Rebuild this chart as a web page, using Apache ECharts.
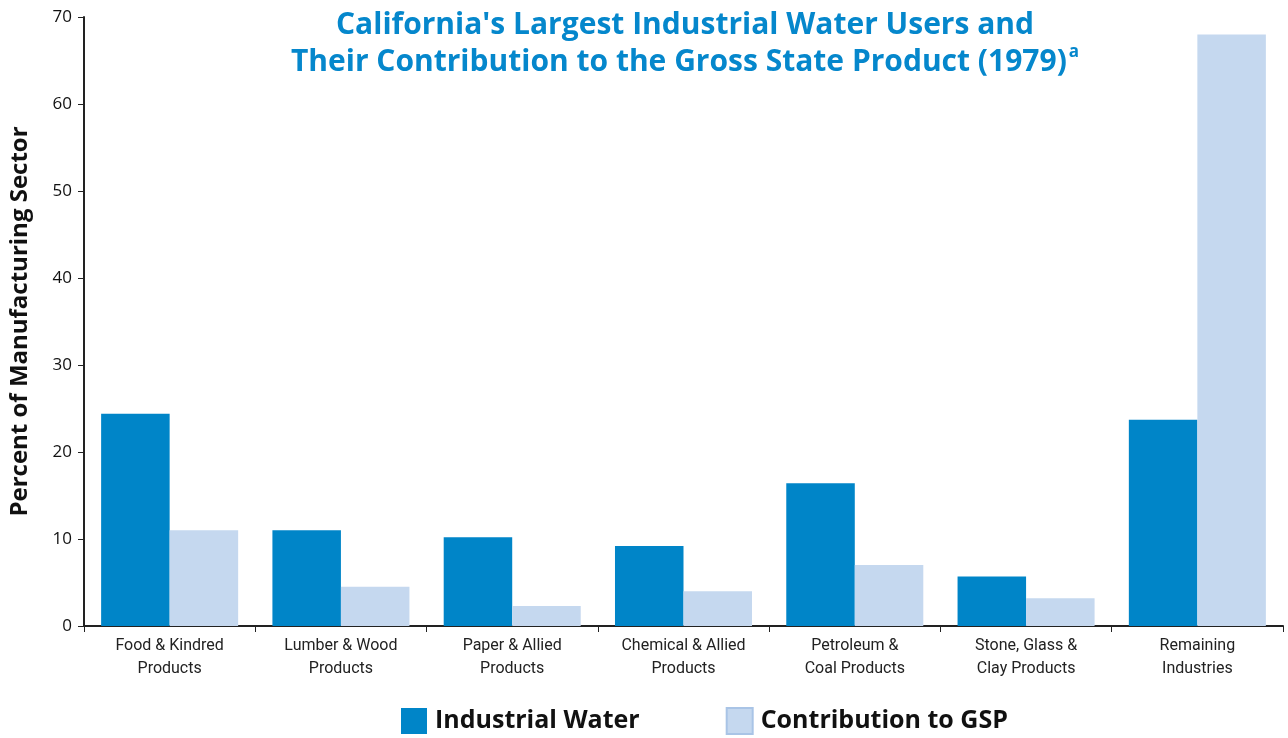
<!DOCTYPE html>
<html>
<head>
<meta charset="utf-8">
<script src="https://cdn.jsdelivr.net/npm/echarts@6/dist/echarts.min.js"></script>
<style>
  html, body { margin: 0; padding: 0; background: #fff; }
  #chart { width: 1288px; height: 738px; }
</style>
</head>
<body>
<div id="chart"></div>
<script>
const categories = [
  'Food & Kindred\nProducts',
  'Lumber & Wood\nProducts',
  'Paper & Allied\nProducts',
  'Chemical & Allied\nProducts',
  'Petroleum &\nCoal Products',
  'Stone, Glass &\nClay Products',
  'Remaining\nIndustries'
];
const industrialWater = [24.4, 11.0, 10.2, 9.2, 16.4, 5.7, 23.7];
const contributionGSP = [11.0, 4.5, 2.3, 4.0, 7.0, 3.2, 68.0];

var chart = echarts.init(document.getElementById('chart'));
chart.setOption({
  animation: false,
  title: {
    text: "California's Largest Industrial Water Users and\nTheir Contribution to the Gross State Product (1979){sup|a}",
    left: 680,
    textAlign: 'center',
    top: 2,
    textStyle: {
      color: '#0587cc',
      fontFamily: 'Open Sans',
      fontWeight: 'bold',
      fontSize: 30,
      lineHeight: 37,
      rich: {
        sup: {
          color: '#0587cc',
          fontFamily: 'Open Sans',
          fontWeight: 'bold',
          fontSize: 17,
          verticalAlign: 'top',
          padding: [0, 0, 18, 2]
        }
      }
    }
  },
  grid: { left: 84, right: 5, top: 17, bottom: 112 },
  legend: {
    top: 702,
    left: 396,
    icon: 'rect',
    itemWidth: 26,
    itemHeight: 26,
    itemGap: 86,
    textStyle: {
      fontFamily: 'Open Sans',
      fontWeight: 'bold',
      fontSize: 25,
      color: '#111',
      padding: [0, 0, 0, 3]
    },
    data: [
      { name: 'Industrial Water', itemStyle: { color: '#0085c8' } },
      { name: 'Contribution to GSP', itemStyle: { color: '#c5d8ef', borderColor: '#a9c4e6', borderWidth: 2 } }
    ]
  },
  xAxis: {
    type: 'category',
    data: categories,
    axisLine: { lineStyle: { color: '#222', width: 2 } },
    axisTick: { show: true, length: 6, lineStyle: { color: '#222' } },
    axisLabel: {
      color: '#222',
      fontFamily: 'Roboto',
      fontSize: 16,
      lineHeight: 23,
      margin: 8
    }
  },
  yAxis: {
    type: 'value',
    min: 0,
    max: 70,
    interval: 10,
    name: 'Percent of Manufacturing Sector',
    nameLocation: 'middle',
    nameGap: 52,
    nameTextStyle: {
      color: '#111',
      fontFamily: 'Open Sans',
      fontWeight: 'bold',
      fontSize: 24
    },
    axisLine: { show: true, lineStyle: { color: '#222', width: 2 } },
    axisTick: { show: true, length: 6, lineStyle: { color: '#222' } },
    axisLabel: {
      color: '#111',
      fontFamily: 'Open Sans',
      fontSize: 17,
      margin: 12
    },
    splitLine: { show: false }
  },
  series: [
    {
      name: 'Industrial Water',
      type: 'bar',
      data: industrialWater,
      barGap: '0%',
      barCategoryGap: '20%',
      itemStyle: { color: '#0085c8' }
    },
    {
      name: 'Contribution to GSP',
      type: 'bar',
      data: contributionGSP,
      itemStyle: { color: '#c5d8ef' }
    }
  ]
});
</script>
</body>
</html>
